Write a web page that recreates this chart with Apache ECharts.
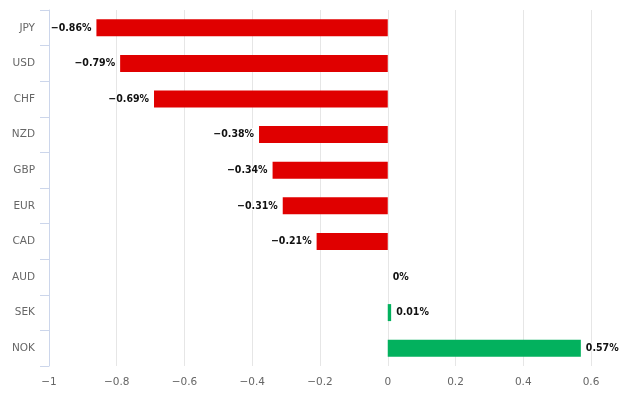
<!DOCTYPE html>
<html><head><meta charset="utf-8">
<script src="https://cdn.jsdelivr.net/npm/echarts@6/dist/echarts.min.js"></script>
<style>html,body{margin:0;padding:0;background:#fff}#c{width:623px;height:401px}</style>
</head><body><div id="c"></div>
<script>
const categories = ['JPY','USD','CHF','NZD','GBP','EUR','CAD','AUD','SEK','NOK'];
const values = [-0.86,-0.79,-0.69,-0.38,-0.34,-0.31,-0.21,0,0.01,0.57];
const xMin = -1, xMax = 0.6, xInterval = 0.2;
const RED = '#e00000', GREEN = '#03b15e';
function fmt(v){ const s = String(Math.abs(v)); return (v<0?'\u2212':'') + s; }
const chart = echarts.init(document.getElementById('c'));
chart.setOption({
  animation:false,
  grid:{left:49,right:32,top:10,bottom:35,containLabel:false},
  xAxis:{type:'value',min:xMin,max:xMax,interval:xInterval,
    axisLine:{show:false},axisTick:{show:false},
    splitLine:{lineStyle:{color:'#e6e6e6'}},
    axisLabel:{color:'#666',fontFamily:'DejaVu Sans',fontSize:10.5,margin:11,
      formatter:v=>fmt(Math.round(v*10)/10)}},
  yAxis:{type:'category',data:categories,inverse:true,z:5,
    axisLine:{show:true,onZero:false,lineStyle:{color:'#ccd6eb',width:1}},
    axisTick:{show:true,alignWithLabel:false,interval:0,length:9,lineStyle:{color:'#ccd6eb',width:1}},
    axisLabel:{color:'#666',fontFamily:'DejaVu Sans',fontSize:10.5,margin:14}},
  series:[{type:'bar',barWidth:17,
    data:values.map(v=>({value:v,itemStyle:{color:v<0?RED:GREEN},
      label:{position:v<0?'left':'right'}})),
    label:{show:true,distance:5,color:'#111',fontWeight:'bold',fontFamily:'DejaVu Sans Condensed',fontSize:10.5,
      textBorderColor:'#fff',textBorderWidth:2,
      formatter:p=>fmt(p.value)+'%'}}]
});
</script></body></html>
